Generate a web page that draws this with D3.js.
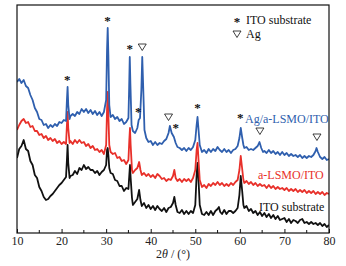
<!DOCTYPE html>
<html>
<head>
<meta charset="utf-8">
<script src="https://cdn.jsdelivr.net/npm/d3@7"></script>
<style>
body{margin:0;background:#fff;}
svg text{font-family:"Liberation Serif","Times New Roman","DejaVu Serif",serif !important;}
</style>
</head>
<body>
<div id="chart"></div>
<script>
// ---- data (2θ in degrees, intensity in a.u.) ----
const xTicks = [10,20,30,40,50,60,70,80];
const xMinorTicks = [15,25,35,45,55,65,75];
const seriesNames = ["ITO substrate","a-LSMO/ITO","Ag/a-LSMO/ITO"];
const seriesColors = ["#111111","#e8302a","#2f5fae"];

const ito = [[10,75],[10.5,84],[11,87],[11.5,93],[12,84],[12.5,82],[13,72],[13.5,68],[14,58],[14.5,55],[15,46],[15.5,42],[16,36],[16.5,33],[17,34],[17.5,37],[18,39],[18.5,42],[19,45],[19.5,48],[20,50],[20.5,53],[21,56],[21.2,73],[21.35,88],[21.5,70],[21.8,55],[22,57],[22.5,58],[23,62],[23.5,59],[24,65],[24.5,63],[25,68],[25.5,64],[26,66],[26.5,63],[27,63],[27.5,60],[28,62],[28.5,58],[29,61],[29.5,63],[30,68],[30.2,83],[30.35,85],[30.5,78],[30.7,65],[31,60],[31.5,59],[32,53],[32.5,52],[33,47],[33.5,47],[34,42],[34.5,45],[35,44],[35.2,58],[35.35,68],[35.5,55],[35.8,35],[36,28],[36.5,31],[37,34],[37.4,43],[37.7,33],[38,27],[38.5,30],[39,25],[39.5,28],[40,24],[40.5,27],[41,23],[41.5,27],[42,24],[42.5,22],[43,25],[43.5,21],[44,25],[44.5,26],[45,30],[45.3,36],[45.6,28],[46,21],[46.5,20],[47,23],[47.5,19],[48,22],[48.5,19],[49,22],[49.5,20],[50,28],[50.3,58],[50.5,70],[50.7,55],[51,28],[51.5,19],[52,18],[52.5,21],[53,18],[53.5,22],[54,18],[54.5,22],[55,24],[55.3,26],[55.6,21],[56,19],[56.5,23],[57,19],[57.5,22],[58,22],[58.5,20],[59,22],[59.5,25],[59.9,38],[60.2,57],[60.5,43],[60.8,28],[61,25],[61.5,27],[62,22],[62.5,24],[63,20],[63.5,22],[64,18],[64.5,21],[65,17],[65.5,20],[66,16],[66.5,19],[67,15],[67.5,18],[68,14],[68.5,17],[69,13],[69.5,14],[70,15],[70.5,11],[71,14],[71.5,10],[72,13],[72.5,12],[73,10],[73.5,13],[74,14],[74.5,10],[75,11],[75.5,9],[76,11],[76.5,9],[77,10],[77.5,8],[78,10],[78.5,7],[79,9],[79.5,6],[80,8]];

const lsmo = [[10,103],[10.5,108],[11,112],[11.5,114],[12,110],[12.5,111],[13,106],[13.5,107],[14,102],[14.5,102],[15,98],[15.5,99],[16,95],[16.5,97],[17,93],[17.5,95],[18,92],[18.5,94],[19,90],[19.5,92],[20,89],[20.5,91],[21,89],[21.2,108],[21.35,121],[21.5,105],[21.8,90],[22,92],[22.5,89],[23,93],[23.5,90],[24,93],[24.5,90],[25,91],[25.5,87],[26,89],[26.5,85],[27,87],[27.5,83],[28,84],[28.5,81],[29,83],[29.5,79],[30,88],[30.2,123],[30.35,141],[30.5,118],[30.7,88],[31,81],[31.5,79],[32,80],[32.5,75],[33,76],[33.5,72],[34,73],[34.5,69],[35,73],[35.2,93],[35.35,105],[35.5,88],[35.8,63],[36,60],[36.5,63],[37,65],[37.4,71],[37.7,63],[38,58],[38.5,60],[39,57],[39.5,59],[40,56],[40.5,58],[41,55],[41.5,59],[42,57],[42.5,54],[43,55],[43.5,52],[44,54],[44.5,53],[45,57],[45.3,63],[45.6,55],[46,52],[46.5,54],[47,51],[47.5,54],[48,52],[48.5,54],[49,51],[49.5,55],[50,63],[50.3,83],[50.5,90],[50.7,75],[51,53],[51.5,46],[52,48],[52.5,45],[53,49],[53.5,47],[54,50],[54.5,48],[55,51],[55.5,48],[56,50],[56.5,47],[57,49],[57.5,47],[58,50],[58.5,48],[59,51],[59.5,53],[59.9,63],[60.2,77],[60.5,65],[60.8,53],[61,50],[61.5,52],[62,49],[62.5,51],[63,48],[63.5,50],[64,47],[64.5,49],[65,47],[65.5,48],[66,45],[66.5,48],[67,45],[67.5,47],[68,44],[68.5,46],[69,44],[69.5,45],[70,43],[70.5,45],[71,42],[71.5,44],[72,42],[72.5,44],[73,41],[73.5,43],[74,41],[74.5,43],[75,40],[75.5,42],[76,40],[76.5,42],[77,39],[77.5,41],[78,39],[78.5,41],[79,38],[79.5,40],[80,39]];

const ag = [[10,151],[10.5,154],[11,150],[11.5,153],[12,147],[12.5,145],[13,138],[13.5,133],[14,125],[14.5,121],[15,114],[15.5,113],[16,108],[16.5,109],[17,105],[17.5,108],[18,106],[18.5,109],[19,107],[19.5,111],[20,110],[20.5,113],[21,112],[21.2,133],[21.35,146],[21.5,128],[21.8,114],[22,117],[22.5,119],[23,117],[23.5,121],[24,119],[24.5,124],[25,121],[25.5,124],[26,120],[26.5,123],[27,119],[27.5,122],[28,118],[28.5,121],[29,117],[29.5,121],[30,133],[30.2,183],[30.35,205],[30.5,178],[30.7,128],[31,116],[31.5,118],[32,114],[32.5,116],[33,112],[33.5,114],[34,109],[34.5,111],[35,115],[35.15,143],[35.3,176],[35.45,148],[35.7,108],[36,102],[36.5,100],[37,105],[37.3,113],[37.6,115],[37.9,143],[38.1,176],[38.3,148],[38.6,103],[39,95],[39.5,91],[40,92],[40.5,88],[41,91],[41.5,88],[42,90],[42.5,89],[43,92],[43.5,94],[44,100],[44.3,107],[44.7,100],[45.2,96],[45.6,90],[46,86],[46.5,85],[47,83],[47.5,85],[48,82],[48.5,85],[49,83],[49.5,86],[50,93],[50.3,108],[50.5,116],[50.7,105],[51,88],[51.5,81],[52,83],[52.5,80],[53,84],[53.5,81],[54,84],[54.5,82],[55,86],[55.5,83],[56,81],[56.5,84],[57,81],[57.5,83],[58,80],[58.5,83],[59,84],[59.5,87],[59.9,95],[60.2,105],[60.5,96],[60.8,88],[61,85],[61.5,86],[62,83],[62.5,84],[63,83],[63.5,85],[64,87],[64.4,91],[64.8,85],[65.2,81],[65.5,82],[66,80],[66.5,83],[67,80],[67.5,82],[68,79],[68.5,81],[69,78],[69.5,81],[70,78],[70.5,80],[71,77],[71.5,79],[72,77],[72.5,78],[73,76],[73.5,78],[74,75],[74.5,77],[75,75],[75.5,77],[76,76],[76.5,78],[77,82],[77.2,85],[77.5,81],[78,76],[78.5,74],[79,76],[79.5,73],[80,74]];

// peak markers: [2θ, intensity at marker]
const itoPeakMarks = [[21.3,155],[30.3,214],[35.3,186],[37.2,123],[45.6,107],[50.5,127],[60.1,117]];
const agPeakMarks = [[38.1,186],[44.0,116],[64.5,102],[77.3,96]];

// ---- chart ----
const W = 346, H = 266;
const FONT = "'Liberation Serif','Times New Roman','DejaVu Serif',serif";
const svg = d3.select("#chart").append("svg").attr("width", W).attr("height", H);
svg.append("rect").attr("width", W).attr("height", H).attr("fill", "#fff");

const x = d3.scaleLinear().domain([10, 80]).range([17, 329]);
const y = d3.scaleLinear().domain([0, 228]).range([233, 5]);

svg.append("clipPath").attr("id", "clip").append("rect")
  .attr("x", 17).attr("y", 5).attr("width", 312).attr("height", 228);

const line = d3.line().x(d => x(d[0])).y(d => y(d[1]));
const g = svg.append("g").attr("clip-path", "url(#clip)");
[ito, lsmo, ag].forEach((s, i) => {
  g.append("path").datum(s).attr("d", line)
    .attr("fill", "none").attr("stroke", seriesColors[i])
    .attr("stroke-width", 1.8).attr("stroke-linejoin", "round");
});

// frame
svg.append("rect").attr("x", 17).attr("y", 5).attr("width", 312).attr("height", 228)
  .attr("fill", "none").attr("stroke", "#111").attr("stroke-width", 1.2);

// x axis
const ax = svg.append("g").attr("transform", "translate(0,233)")
  .call(d3.axisBottom(x).tickValues(xTicks).tickSizeInner(-4).tickSizeOuter(0).tickPadding(3).tickFormat(d3.format("d")));
ax.attr("font-family", FONT);
ax.select(".domain").remove();
ax.selectAll("line").attr("stroke", "#111").attr("stroke-width", 1);
ax.selectAll("text").attr("font-size", 12).attr("fill", "#222").style("font-family", FONT);
svg.append("g").selectAll("line").data(xMinorTicks).join("line")
  .attr("x1", d => x(d)).attr("x2", d => x(d)).attr("y1", 233).attr("y2", 230)
  .attr("stroke", "#111").attr("stroke-width", 1);

const title = svg.append("text").attr("x", 173).attr("y", 258)
  .attr("text-anchor", "middle").attr("font-size", 12).attr("fill", "#222").style("font-family", FONT);
title.append("tspan").text("2");
title.append("tspan").attr("font-style", "italic").text("θ");
title.append("tspan").text(" / (°)");

// peak markers
const starSym = (sel, cx, cy) => sel.append("text").attr("x", cx).attr("y", cy + 6)
  .attr("text-anchor", "middle").attr("font-size", 13).attr("font-weight", "bold")
  .style("font-family", FONT).attr("fill", "#111").text("*");
const triPath = (cx, cy) => `M${cx-4},${cy-3}L${cx+4},${cy-3}L${cx},${cy+3.5}Z`;

itoPeakMarks.forEach(d => starSym(svg, x(d[0]), y(d[1])));
svg.append("g").selectAll("path").data(agPeakMarks).join("path")
  .attr("d", d => triPath(x(d[0]), y(d[1])))
  .attr("fill", "none").attr("stroke", "#111").attr("stroke-width", 0.8);

// legend
starSym(svg, 237, 20);
svg.append("text").attr("x", 246).attr("y", 24).attr("font-size", 12).style("font-family", FONT).attr("fill", "#111").text("ITO substrate");
svg.append("path").attr("d", triPath(237, 34)).attr("fill", "none").attr("stroke", "#111").attr("stroke-width", 0.8);
svg.append("text").attr("x", 246).attr("y", 38).attr("font-size", 12).style("font-family", FONT).attr("fill", "#111").text("Ag");

// series labels
const lab = (t, xx, yy, c) => svg.append("text").attr("x", xx).attr("y", yy).attr("font-size", 12)
  .style("font-family", FONT).attr("fill", c).text(t);
lab(seriesNames[2], 245, 123, seriesColors[2]);
lab(seriesNames[1], 258, 179, seriesColors[1]);
lab(seriesNames[0], 259, 211, seriesColors[0]);
</script>
</body>
</html>
